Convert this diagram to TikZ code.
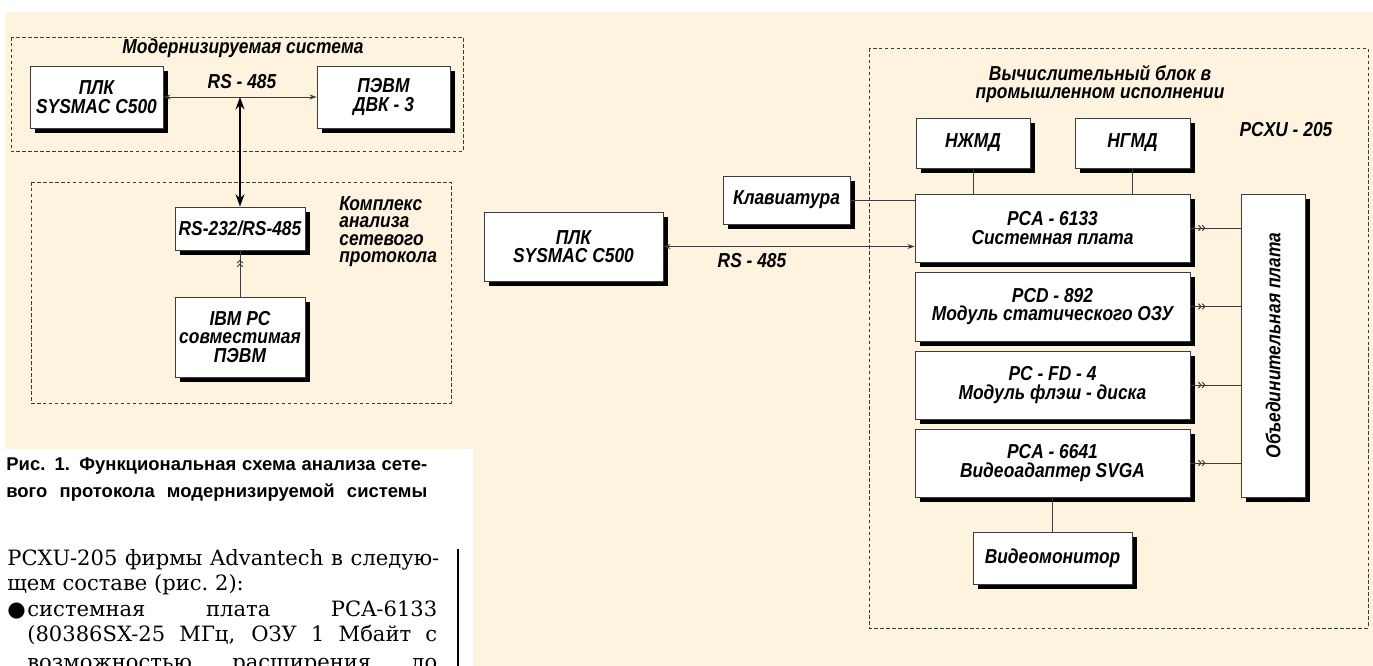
\documentclass[tikz,border=0pt]{standalone}
\usepackage{fontspec}
\newfontfamily\diagfont[FakeStretch=0.86]{Liberation Sans}
\newfontfamily\captfont{Liberation Sans}
\newfontfamily\bodyfont{DejaVu Serif}
\newfontfamily\symfont{DejaVu Sans}
\usepackage{tikz}
\usetikzlibrary{
    arrows.meta,
    shadows,
    decorations.markings
}
\definecolor{paper}{RGB}{254,243,222}
\definecolor{frame}{RGB}{60,60,60}

\tikzset{
    blk/.style={draw=frame, line width=0.5pt, fill=white, align=center, inner sep=0pt,
        font=\diagfont\bfseries\itshape\fontsize{11.5}{10.5}\selectfont,
        drop shadow={shadow xshift=0.1cm, shadow yshift=-0.1cm, fill=black, opacity=1}},
    lbl/.style={font=\diagfont\bfseries\itshape\fontsize{11.5}{10.6}\selectfont, inner sep=0pt},
    group/.style={draw=frame, line width=0.45pt, dash pattern=on 2pt off 1.4pt},
    wire/.style={draw=frame, line width=0.55pt},
    rsline/.style={wire, {Stealth[length=4pt,width=2.8pt]}-{Stealth[length=4pt,width=2.8pt]}},
    feed/.style={wire, postaction={decorate}, decoration={markings,
        mark=at position #1 with {\arrow{Straight Barb[length=1.5pt,width=3.2pt] Straight Barb[length=1.5pt,width=3.2pt]}}}},
    body/.style={anchor=base west, inner sep=0pt, font=\bodyfont\fontsize{12}{14}\selectfont},
    capt/.style={anchor=base west, inner sep=0pt, font=\captfont\bfseries\fontsize{10.5}{12}\selectfont}
}

\begin{document}
\begin{tikzpicture}[x=0.02cm, y=-0.02cm]
    \useasboundingbox (0,0) rectangle (1373,666);

    % Page
    \fill[paper] (5,12) rectangle (1373,666);
    \fill[white] (0,449) rectangle (473,666);

    % Modernised system
    \draw[group] (11,37) rectangle (463,151);
    \node[lbl] (ttlA) at (243,48) {Модернизируемая система};
    \node[blk, minimum width=2.66cm, minimum height=1.24cm] (plcA) at (96.5,97) {ПЛК\\SYSMAC C500};
    \node[blk, minimum width=2.66cm, minimum height=1.24cm] (pevm) at (383.5,97) {ПЭВМ\\ДВК - 3};
    \node[lbl] (rsA) at (242,82) {RS - 485};

    % Protocol analyser
    \draw[group] (31,182) rectangle (451,403);
    \node[lbl, anchor=north west, align=left, font=\diagfont\bfseries\itshape\fontsize{11.5}{10}\selectfont] (cmplx) at (339,196) {Комплекс\\анализа\\сетевого\\протокола};
    \node[blk, minimum width=2.6cm, minimum height=0.86cm] (conv) at (240,228.5) {RS-232/RS-485};
    \node[blk, minimum width=2.6cm, minimum height=1.6cm] (ibm) at (240,337) {IBM PC\\совместимая\\ПЭВМ};

    \draw[rsline] (plcA.east) -- (pevm.west);
    \coordinate (tap) at (conv.north |- plcA.east);
    \draw[line width=1.2pt, {Stealth[length=7pt,width=5pt]}-{Stealth[length=7pt,width=5pt]}] (tap) -- (conv.north);
    \draw[feed=0.8] (ibm.north) -- (conv.south);

    % Caption and text
    \node[capt] (capA) at (6,470) {\makebox[8.42cm][s]{Рис. 1. Функциональная схема анализа сете-}};
    \node[capt] (capB) at (6,497) {\makebox[8.42cm][s]{вого протокола модернизируемой системы}};
    \node[body] (txtA) at (7,565) {\makebox[8.64cm][s]{PCXU-205 фирмы Advantech в следую-}};
    \node[body] (txtB) at (7,590.5) {щем составе (рис.~2):};
    \node[body] (dot) at (7,616) {\symfont ●};
    \node[body] (txtC) at (27,616) {\makebox[8.2cm][s]{системная плата PCA-6133}};
    \node[body] (txtD) at (27,641.5) {\makebox[8.2cm][s]{(80386SX-25 МГц, ОЗУ 1 Мбайт с}};
    \node[body] (txtE) at (27,669) {\makebox[8.2cm][s]{возможностью расширения до}};
    \draw[line width=0.7pt] (458,549) -- (458,666);

    % Computing unit
    \draw[group] (869,48) rectangle (1368,628);
    \node[lbl, align=center] (ttlB) at (1100,84) {Вычислительный блок в\\промышленном исполнении};
    \node[lbl] (pcxu) at (1286,130) {PCXU - 205};
    \node[blk, minimum width=3.58cm, minimum height=1.38cm] (plcB) at (573.5,246.5) {ПЛК\\SYSMAC C500};
    \node[blk, minimum width=2.54cm, minimum height=0.96cm] (kbd) at (786.5,200) {Клавиатура};
    \node[blk, minimum width=2.28cm, minimum height=1cm] (hdd) at (973,143) {НЖМД};
    \node[blk, minimum width=2.3cm, minimum height=1cm] (fdd) at (1132.5,143) {НГМД};
    \node[blk, minimum width=5.5cm, minimum height=1.36cm] (sys) at (1052.5,228) {PCA - 6133\\Системная плата};
    \node[blk, minimum width=5.5cm, minimum height=1.38cm] (ram) at (1052.5,306.5) {PCD - 892\\Модуль статического ОЗУ};
    \node[blk, minimum width=5.5cm, minimum height=1.36cm] (flash) at (1052.5,385) {PC - FD - 4\\Модуль флэш - диска};
    \node[blk, minimum width=5.5cm, minimum height=1.36cm] (vga) at (1052.5,463) {PCA - 6641\\Видеоадаптер SVGA};
    \node[blk, minimum width=1.28cm, minimum height=6.06cm] (bplane) at (1273,345.5) {};
    \node[lbl, rotate=90] (bptext) at (bplane.center) {Объединительная плата};
    \node[blk, minimum width=3.18cm, minimum height=1.04cm] (mon) at (1052.5,558) {Видеомонитор};
    \node[lbl] (rsB) at (752,261) {RS - 485};

    \draw[rsline] (plcB.east) -- (plcB.east -| sys.west);
    \draw[wire] (kbd.east) -- (kbd.east -| sys.west);
    \draw[wire] (hdd.south) -- (hdd.south |- sys.north);
    \draw[wire] (fdd.south) -- (fdd.south |- sys.north);
    \foreach \m in {sys, ram, flash, vga}
        \draw[feed=0.3] (\m.east) -- (\m.east -| bplane.west);
    \draw[wire] (vga.south) -- (mon.north);
\end{tikzpicture}
\end{document}
